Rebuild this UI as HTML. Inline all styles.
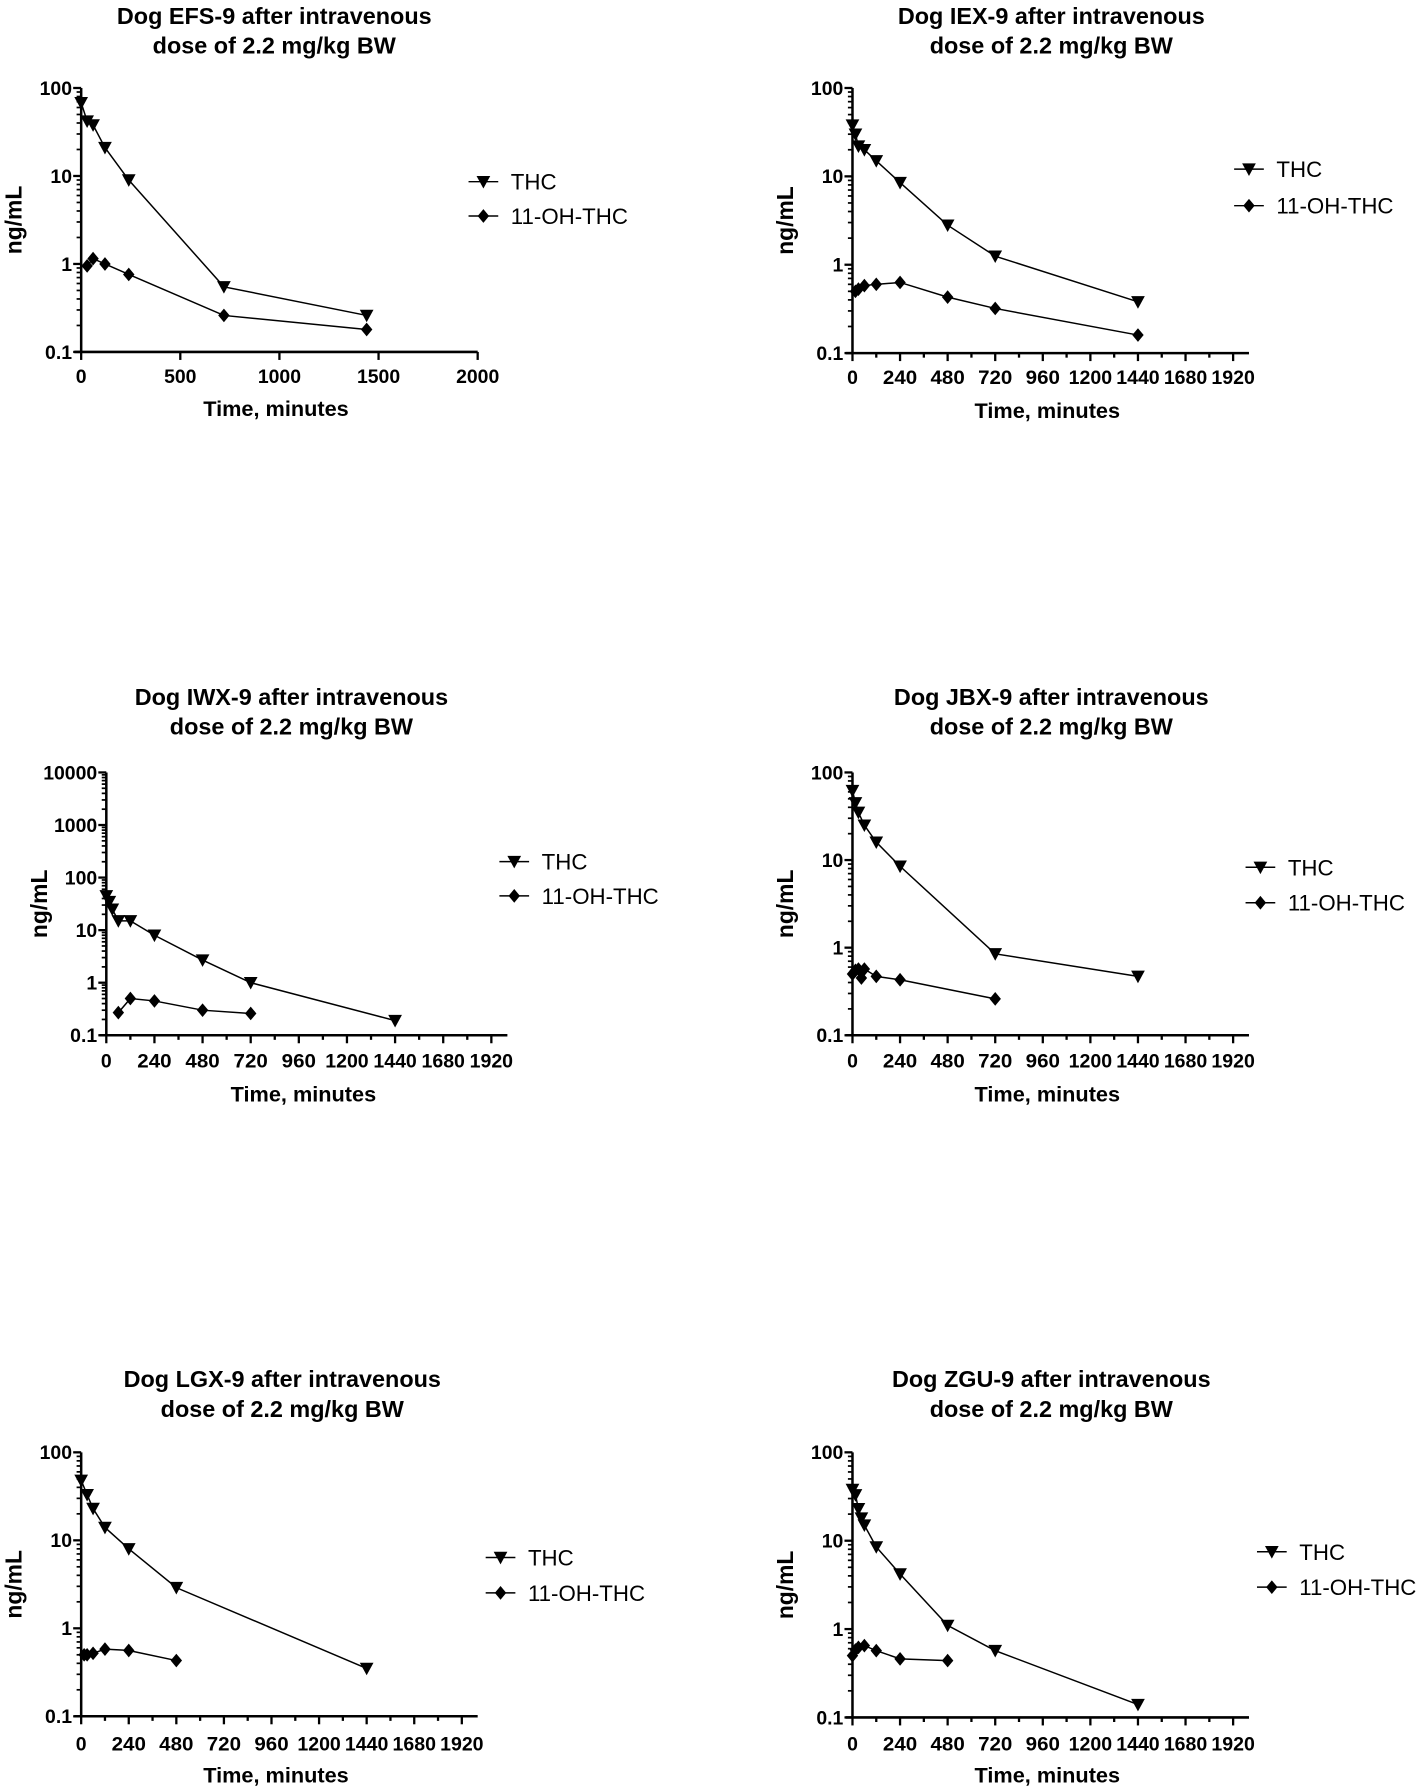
<!DOCTYPE html>
<html><head><meta charset="utf-8">
<style>
html,body{margin:0;padding:0;background:#fff;}
svg{display:block;font-family:"Liberation Sans",Arial,sans-serif;}
</style></head>
<body>
<svg id="fig" width="1417" height="1786" viewBox="0 0 1240 1563" xmlns="http://www.w3.org/2000/svg"></svg>
<script>
// ---- data ----
const chartTitles = ["Dog EFS-9 after intravenous","Dog IEX-9 after intravenous","Dog IWX-9 after intravenous","Dog JBX-9 after intravenous","Dog LGX-9 after intravenous","Dog ZGU-9 after intravenous"];
const thcTimes = [
 [0,30,60,120,240,720,1440],
 [0,15,30,60,120,240,480,720,1440],
 [0,15,30,60,120,240,480,720,1440],
 [0,15,30,60,120,240,720,1440],
 [0,30,60,120,240,480,1440],
 [0,15,30,45,60,120,240,480,720,1440]
];
const thcValues = [
 [68,42,38,21,9,0.55,0.26],
 [38,30,22,20,15,8.5,2.8,1.25,0.38],
 [45,35,25,15,15,8,2.7,1.0,0.19],
 [62,45,35,25,16,8.5,0.85,0.47],
 [48,33,23,14,8,2.9,0.35],
 [38,33,23,18,15,8.5,4.2,1.1,0.57,0.14]
];
const ohTimes = [
 [30,60,120,240,720,1440],
 [15,30,60,120,240,480,720,1440],
 [60,120,240,480,720],
 [0,15,30,45,60,120,240,720],
 [15,30,60,120,240,480],
 [0,15,30,60,120,240,480]
];
const ohValues = [
 [0.95,1.15,1.0,0.76,0.26,0.18],
 [0.5,0.53,0.58,0.6,0.63,0.43,0.32,0.16],
 [0.27,0.5,0.45,0.3,0.26],
 [0.5,0.55,0.57,0.45,0.57,0.47,0.43,0.26],
 [0.5,0.5,0.52,0.58,0.56,0.43],
 [0.5,0.58,0.62,0.65,0.57,0.46,0.44]
];
const yMaxExp = [2,2,4,2,2,2];
const xTickLabelsA = ["0","500","1000","1500","2000"];
const xTickLabelsB = ["0","240","480","720","960","1200","1440","1680","1920"];
const legendLabels = ["THC","11-OH-THC"];

// ---- layout ----
const layouts = [
 {ax:71, top:77, bot:308, tcx:240, ty:14, leg:{x:410,y1:159,y2:189}, tickY:329, titleX:357, xEnd:2000, labA:true},
 {ax:746, top:77, bot:309, tcx:920, ty:14, leg:{x:1080,y1:148,y2:180}, tickY:330, titleX:359, xEnd:2000},
 {ax:93, top:676, bot:906, tcx:255, ty:610, leg:{x:437,y1:754,y2:784}, tickY:928, titleX:957, xEnd:2000},
 {ax:746, top:676, bot:906, tcx:920, ty:610, leg:{x:1090,y1:759,y2:790}, tickY:928, titleX:957, xEnd:2000},
 {ax:71, top:1271, bot:1502, tcx:247, ty:1207, leg:{x:425,y1:1363,y2:1394}, tickY:1526, titleX:1553, xEnd:2000},
 {ax:746, top:1271, bot:1503, tcx:920, ty:1207, leg:{x:1100,y1:1358,y2:1389}, tickY:1526, titleX:1553, xEnd:2000}
];
const NS="http://www.w3.org/2000/svg";
const svg=document.getElementById('fig');
function mk(tag,attrs,parent){const e=document.createElementNS(NS,tag);for(const k in attrs)e.setAttribute(k,attrs[k]);(parent||svg).appendChild(e);return e;}
function tri(g,x,y){return mk('path',{d:`M${x-6},${y-5} L${x+6},${y-5} L${x},${y+6} Z`,fill:'#000'},g);}
function dia(g,x,y){return mk('path',{d:`M${x},${y-6} L${x+5},${y} L${x},${y+6} L${x-5},${y} Z`,fill:'#000'},g);}

layouts.forEach((L,i)=>{
 const g=mk('g',{});
 
 
 const xr=L.ax+(i==2?351:347);
 const xs=v=>L.ax+(v/L.xEnd)*(xr-L.ax);
 const maxE=yMaxExp[i], minE=-1;
 const ys=v=>L.bot-(Math.log10(v)-minE)/(maxE-minE)*(L.bot-L.top);
 // title
 const t1=mk('text',{x:L.tcx,y:L.ty+7,'text-anchor':'middle','font-size':20.5,'font-weight':'bold'},g);
 t1.textContent=chartTitles[i];
 
 
 const t2=mk('text',{x:L.tcx,y:L.ty+33,'text-anchor':'middle','font-size':20.5,'font-weight':'bold'},g);
 t2.textContent="dose of 2.2 mg/kg BW";
 
 
 // axes
 const yAx=mk('line',{x1:L.ax,y1:L.top,x2:L.ax,y2:L.bot,stroke:'#000','stroke-width':2.2},g);
 
 
 const xAx=mk('line',{x1:L.ax-6,y1:L.bot,x2:xr,y2:L.bot,stroke:'#000','stroke-width':2.2},g);
 
 
 // y ticks
 for(let e=minE;e<=maxE;e++){
  const y=ys(Math.pow(10,e));
  mk('line',{x1:L.ax-7,y1:y,x2:L.ax,y2:y,stroke:'#000','stroke-width':2},g);
  const lb=mk('text',{x:L.ax-8,y:y+6,'text-anchor':'end','font-size':17,'font-weight':'bold'},g);
  lb.textContent=e<0?'0.1':String(Math.pow(10,e));
  
  
  if(e<maxE){for(let m=2;m<=9;m++){const yy=ys(m*Math.pow(10,e));mk('line',{x1:L.ax-4,y1:yy,x2:L.ax,y2:yy,stroke:'#000','stroke-width':1.5},g);}}
 }
 // x ticks
 if(L.labA){
  xTickLabelsA.forEach(s=>{const x=xs(+s);mk('line',{x1:x,y1:L.bot,x2:x,y2:L.bot+7,stroke:'#000','stroke-width':2},g);
   const lb=mk('text',{x:x,y:L.tickY+6,'text-anchor':'middle','font-size':17,'font-weight':'bold'},g);lb.textContent=s;
   
   });
 } else {
  for(let v=0;v<=1920;v+=120){const x=xs(v);const maj=v%240==0;mk('line',{x1:x,y1:L.bot,x2:x,y2:L.bot+(maj?7:4),stroke:'#000','stroke-width':2},g);}
  xTickLabelsB.forEach(s=>{const x=xs(+s);
   const lb=mk('text',{x:x,y:L.tickY+6,'text-anchor':'middle','font-size':17,'font-weight':'bold'},g);lb.textContent=s;
   if(s.length>3){lb.setAttribute('textLength',38);lb.setAttribute('lengthAdjust','spacingAndGlyphs');}
   else if(s.length==3){lb.setAttribute('textLength',30);lb.setAttribute('lengthAdjust','spacingAndGlyphs');}
   
   });
 }
 const xt=mk('text',{x:(L.ax+xr)/2-3,y:L.titleX+7,'text-anchor':'middle','font-size':19,'font-weight':'bold'},g);
 xt.textContent="Time, minutes";
 
 
 const ycx=L.ax-52, ycy=(L.top+L.bot)/2;
 const yt=mk('text',{x:ycx,y:ycy,'text-anchor':'middle','font-size':20,'font-weight':'bold',transform:`rotate(-90 ${ycx} ${ycy})`},g);
 yt.textContent="ng/mL";
 
 
 // series
 const thcPts=thcTimes[i].map((t,j)=>[xs(t),ys(thcValues[i][j])]);
 const ohPts=ohTimes[i].map((t,j)=>[xs(t),ys(ohValues[i][j])]);
 const l1=mk('polyline',{points:thcPts.map(p=>p.join(',')).join(' '),fill:'none',stroke:'#000','stroke-width':1.3},g);
 
 
 const l2=mk('polyline',{points:ohPts.map(p=>p.join(',')).join(' '),fill:'none',stroke:'#000','stroke-width':1.3},g);
 
 
 thcPts.forEach(p=>{const m=tri(g,p[0],p[1]);
  
  });
 ohPts.forEach(p=>{const m=dia(g,p[0],p[1]);
  
  });
 // legend
 const lg=mk('g',{},g);
 
 
 [[L.leg.y1,tri,0],[L.leg.y2,dia,1]].forEach(([y,f,k])=>{
  mk('line',{x1:L.leg.x,y1:y,x2:L.leg.x+26,y2:y,stroke:'#000','stroke-width':1.3},lg);
  f(lg,L.leg.x+13,y);
  const tx=mk('text',{x:L.leg.x+37,y:y+7,'font-size':19.5},lg);
  tx.textContent=legendLabels[k];
  
  
 });
});
</script>
</body></html>
